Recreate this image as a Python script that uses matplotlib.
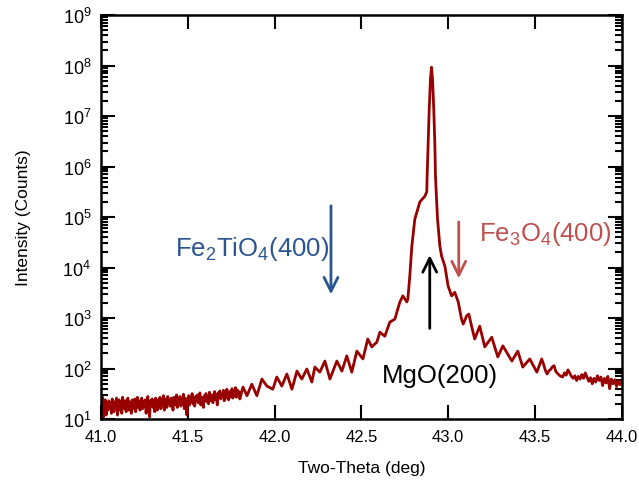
import numpy as np
import matplotlib
matplotlib.use("Agg")
import matplotlib.pyplot as plt

plt.rcParams['font.family'] = ['Liberation Sans', 'DejaVu Sans']

# ---- data (Two-Theta in deg, Intensity in counts) ----
bg_theta = [round(41.00 + 0.005 * i, 3) for i in range(160)]
bg_counts = [13, 22, 27, 11, 17, 24, 12, 19, 15, 23,
             16, 21, 13, 25, 18, 14, 22, 17, 26, 12,
             19, 24, 15, 21, 13, 27, 18, 16, 23, 14,
             20, 26, 15, 22, 18, 13, 24, 19, 16, 25,
             14, 21, 27, 17, 23, 15, 20, 26, 16, 22,
             18, 24, 13, 21, 28, 16, 11, 23, 19, 25,
             17, 22, 14, 26, 20, 15, 24, 18, 27, 16,
             23, 19, 29, 15, 22, 25, 17, 28, 20, 24,
             18, 26, 21, 15, 27, 22, 19, 30, 17, 24,
             21, 28, 18, 25, 20, 31, 16, 26, 22, 12,
             24, 29, 19, 27, 22, 32, 20, 25, 18, 28,
             23, 30, 21, 26, 33, 19, 27, 24, 17, 29,
             25, 32, 22, 28, 20, 34, 26, 23, 30, 21,
             29, 35, 24, 31, 19, 33, 27, 36, 25, 30,
             28, 37, 23, 32, 26, 39, 29, 24, 35, 27,
             33, 40, 26, 36, 30, 42, 27, 38, 31, 35]

peak_theta = [41.800, 41.818, 41.841, 41.869, 41.898, 41.927, 41.956, 41.990,
              42.013, 42.042, 42.071, 42.100, 42.129, 42.157, 42.186, 42.215,
              42.232, 42.261, 42.290, 42.319, 42.359, 42.388, 42.416, 42.445,
              42.474, 42.509, 42.537, 42.560, 42.589, 42.607, 42.635, 42.664,
              42.693, 42.722, 42.739, 42.762, 42.768, 42.779, 42.791, 42.808,
              42.837, 42.866, 42.877, 42.879, 42.885, 42.891, 42.898, 42.904,
              42.910, 42.917, 42.923, 42.927, 42.933, 42.939, 42.952, 42.962,
              42.981, 43.000, 43.020, 43.038, 43.058, 43.077, 43.087, 43.106,
              43.119, 43.135, 43.153, 43.182, 43.211, 43.251, 43.286, 43.315,
              43.367, 43.401, 43.430, 43.470, 43.511, 43.539]
peak_counts = [25, 43, 29, 49, 29, 62, 45, 39,
               68, 45, 78, 39, 89, 62, 98, 54,
               107, 85, 141, 62, 141, 89, 178, 85,
               222, 155, 385, 269, 333, 525, 437, 832,
               955, 2090, 2750, 2090, 2400, 6760, 27000, 91000,
               200000, 260000, 320000, 650000, 3.1e6, 1.4e7, 5.4e7, 9.3e7,
               5.4e7, 1.4e7, 3.1e6, 6.5e5, 2.3e5, 91000, 27000, 17000,
               10700, 4270, 2750, 3240, 2090, 955, 760, 1100,
               1200, 690, 385, 690, 269, 417, 170, 282,
               141, 222, 107, 155, 85, 155]

tail_theta = [round(43.55 + 0.01 * i, 2) for i in range(46)]
tail_counts = [120, 92, 78, 90, 96, 108, 114, 88, 80, 74,
               70, 68, 82, 74, 94, 82, 70, 64, 72, 58,
               70, 62, 76, 64, 82, 68, 56, 66, 50, 64,
               54, 72, 58, 68, 46, 64, 52, 70, 40, 62,
               50, 60, 44, 58, 48, 54]

two_theta = bg_theta + peak_theta + tail_theta
counts = bg_counts + peak_counts + tail_counts

# ---- figure ----
fig = plt.figure(figsize=(6.39, 4.89), dpi=100)
ax = fig.add_axes([0.158, 0.141, 0.815, 0.826])

ax.plot(two_theta, counts, color='#990000', lw=2.0)

ax.set_yscale('log')
ax.set_xlim(41.0, 44.0)
ax.set_ylim(1e1, 1e9)
ax.set_xticks([41.0, 41.5, 42.0, 42.5, 43.0, 43.5, 44.0])
ax.set_xticklabels(['41.0', '41.5', '42.0', '42.5', '43.0', '43.5', '44.0'])
ax.set_yticks([10.0 ** k for k in range(1, 10)])
ax.set_yticklabels([r'$\mathregular{10^{%d}}$' % k for k in range(1, 10)])
ax.yaxis.set_minor_locator(matplotlib.ticker.LogLocator(base=10, subs=np.arange(2, 10), numticks=20))
ax.yaxis.set_minor_formatter(matplotlib.ticker.NullFormatter())

ax.tick_params(which='both', direction='in', top=True, right=True, width=1.5)
ax.tick_params(axis='x', labelsize=12)
ax.tick_params(axis='y', labelsize=13)
ax.tick_params(which='major', length=10, pad=7)
ax.tick_params(which='minor', length=5)
for s in ax.spines.values():
    s.set_linewidth(1.8)

ax.set_xlabel('Two-Theta (deg)', fontsize=12.5, labelpad=12)
ax.set_ylabel('Intensity (Counts)', fontsize=12.5, labelpad=23)

# annotations
blue = '#2a5590'
red = '#c0504d'
ax.annotate('', xy=(42.325, 2.6e3), xytext=(42.325, 1.9e5),
            arrowprops=dict(arrowstyle='->', color=blue, lw=2, mutation_scale=25))
ax.text(42.315, 2.4e4, r'$\mathregular{Fe_2TiO_4(400)}$', color=blue, fontsize=18.5,
        ha='right', va='center')

ax.annotate('', xy=(43.061, 5.4e3), xytext=(43.061, 9.1e4),
            arrowprops=dict(arrowstyle='->', color=red, lw=2, mutation_scale=25))
ax.text(43.18, 4.8e4, r'$\mathregular{Fe_3O_4(400)}$', color=red, fontsize=18.5,
        ha='left', va='center')

ax.annotate('', xy=(42.894, 2.0e4), xytext=(42.894, 550),
            arrowprops=dict(arrowstyle='->', color='black', lw=2, mutation_scale=25))
ax.text(42.95, 75, 'MgO(200)', color='black', fontsize=18.5, ha='center', va='center')

fig.savefig('out.png', dpi=100)
